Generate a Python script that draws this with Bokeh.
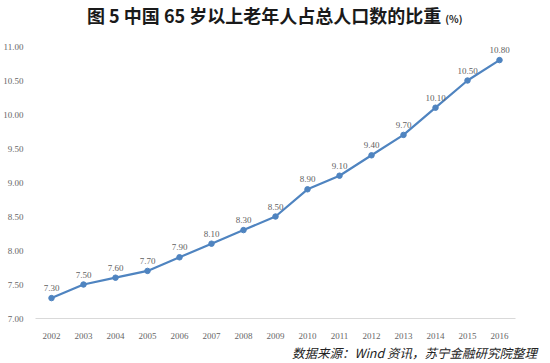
from bokeh.plotting import figure
from bokeh.layouts import column
from bokeh.models import ColumnDataSource, Range1d, FixedTicker, NumeralTickFormatter, LabelSet, Div
from bokeh.embed import file_html
from bokeh.resources import INLINE

years = [2002, 2003, 2004, 2005, 2006, 2007, 2008, 2009, 2010, 2011, 2012, 2013, 2014, 2015, 2016]
share = [7.30, 7.50, 7.60, 7.70, 7.90, 8.10, 8.30, 8.50, 8.90, 9.10, 9.40, 9.70, 10.10, 10.50, 10.80]
y_ticks = [7.0, 7.5, 8.0, 8.5, 9.0, 9.5, 10.0, 10.5, 11.0]
title_text = "图 5 中国 65 岁以上老年人占总人口数的比重"
title_unit = "(%)"
source_text = "数据来源：Wind 资讯，苏宁金融研究院整理"

src = ColumnDataSource(dict(x=years, y=share, lab=["%.2f" % v for v in share]))

p = figure(frame_width=480, frame_height=272, output_backend="svg", toolbar_location=None,
           x_range=Range1d(2001.5, 2016.5), y_range=Range1d(7.0, 11.0),
           min_border_left=26, min_border_right=28, min_border_top=8, min_border_bottom=26)
p.outline_line_color = None
p.xgrid.visible = False
p.ygrid.visible = False
p.background_fill_color = "white"
p.border_fill_color = "white"

p.line("x", "y", source=src, line_color="#4f84c0", line_width=2.2)
p.scatter("x", "y", source=src, size=5.5, color="#4f84c0")

labels = LabelSet(x="x", y="y", text="lab", source=src, y_offset=7, text_align="center",
                  text_baseline="bottom", text_font="Liberation Serif", text_font_size="9px",
                  text_color="#5f5f5f")
p.add_layout(labels)

xa = p.xaxis[0]
xa.ticker = FixedTicker(ticks=years)
xa.major_label_overrides = {y: str(y) for y in years}
xa.axis_line_color = "#d9d9d9"
xa.major_tick_line_color = None
xa.minor_tick_line_color = None
xa.major_label_text_font = "Liberation Serif"
xa.major_label_text_font_size = "9px"
xa.major_label_text_color = "#666666"
xa.major_label_standoff = 8

ya = p.yaxis[0]
ya.ticker = FixedTicker(ticks=y_ticks)
ya.formatter = NumeralTickFormatter(format="0.00")
ya.axis_line_color = None
ya.major_tick_line_color = None
ya.minor_tick_line_color = None
ya.major_label_text_font = "Liberation Serif"
ya.major_label_text_font_size = "9px"
ya.major_label_text_color = "#666666"
ya.major_label_standoff = 6

title_html = (
    '<div style="position:relative;width:542px;height:38px;">'
    '<span style="position:absolute;left:87px;top:4px;white-space:nowrap;color:#1a1a1a;'
    'font-family:\'Noto Sans CJK SC\';font-weight:bold;font-size:18px;line-height:22px;">'
    + title_text +
    ' <span style="font-size:10px;">' + title_unit + '</span></span></div>'
)
source_html = (
    '<div style="position:relative;width:542px;height:18px;">'
    '<span style="position:absolute;right:5px;top:0px;white-space:nowrap;color:#222222;'
    'font-family:\'Noto Sans CJK SC\';font-style:italic;font-size:12.5px;line-height:18px;">'
    + source_text + '</span></div>'
)
title_div = Div(text=title_html, width=542, height=38, margin=0)
source_div = Div(text=source_html, width=542, height=18, margin=0)

layout = column(title_div, p, source_div, spacing=0, margin=0)

open("out.html", "w").write(file_html(layout, INLINE))
